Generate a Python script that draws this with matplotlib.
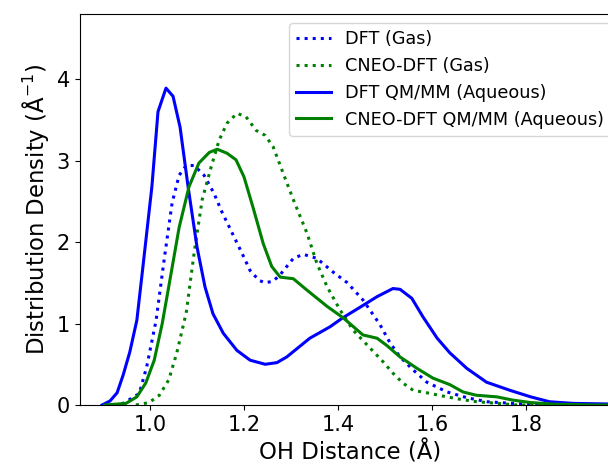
import matplotlib
matplotlib.use("Agg")
import matplotlib.pyplot as plt

# ── data (OH distance in Å, density in Å^-1) ──
dft_gas_x = [0.94, 0.977, 0.993, 1.013, 1.03, 1.047, 1.062, 1.077, 1.094, 1.115,
             1.136, 1.153, 1.175, 1.196, 1.213, 1.232, 1.245, 1.262, 1.277, 1.305,
             1.326, 1.355, 1.39, 1.42, 1.453, 1.489, 1.51, 1.532, 1.56, 1.589,
             1.632, 1.674, 1.717, 1.77, 1.82, 1.9, 2.0]
dft_gas_y = [0.01, 0.14, 0.47, 1.04, 1.78, 2.48, 2.82, 2.94, 2.94, 2.82,
             2.60, 2.37, 2.11, 1.86, 1.65, 1.53, 1.50, 1.52, 1.60, 1.80,
             1.85, 1.80, 1.63, 1.50, 1.29, 0.99, 0.77, 0.59, 0.43, 0.28,
             0.16, 0.09, 0.04, 0.02, 0.01, 0.0, 0.0]

cneo_gas_x = [0.97, 0.998, 1.02, 1.04, 1.057, 1.077, 1.094, 1.111, 1.13, 1.147,
              1.164, 1.185, 1.204, 1.226, 1.245, 1.262, 1.283, 1.305, 1.334, 1.355,
              1.377, 1.404, 1.432, 1.468, 1.496, 1.517, 1.538, 1.56, 1.589, 1.623,
              1.66, 1.695, 1.74, 1.78, 1.9, 2.0]
cneo_gas_y = [0.0, 0.03, 0.12, 0.31, 0.64, 1.13, 1.87, 2.52, 2.92, 3.25,
              3.46, 3.58, 3.54, 3.37, 3.31, 3.17, 2.85, 2.52, 2.11, 1.74,
              1.45, 1.17, 0.92, 0.70, 0.53, 0.39, 0.27, 0.18, 0.15, 0.11,
              0.07, 0.04, 0.02, 0.0, 0.0, 0.0]

dft_aq_x = [0.898, 0.915, 0.93, 0.943, 0.957, 0.972, 0.985, 1.004, 1.017, 1.034,
            1.049, 1.064, 1.081, 1.10, 1.117, 1.134, 1.156, 1.185, 1.213, 1.245,
            1.27, 1.291, 1.34, 1.383, 1.41, 1.447, 1.483, 1.517, 1.532, 1.557,
            1.581, 1.611, 1.638, 1.674, 1.716, 1.766, 1.81, 1.85, 1.90, 2.0]
dft_aq_y = [0.0, 0.05, 0.15, 0.37, 0.65, 1.04, 1.7, 2.68, 3.6, 3.89,
            3.79, 3.41, 2.68, 1.94, 1.45, 1.12, 0.88, 0.67, 0.55, 0.50,
            0.52, 0.59, 0.82, 0.96, 1.07, 1.20, 1.33, 1.43, 1.42, 1.31,
            1.08, 0.82, 0.64, 0.45, 0.28, 0.18, 0.10, 0.04, 0.02, 0.01]

cneo_aq_x = [0.904, 0.949, 0.972, 0.991, 1.009, 1.026, 1.045, 1.062, 1.083, 1.104,
             1.126, 1.143, 1.164, 1.183, 1.2, 1.219, 1.241, 1.259, 1.277, 1.305,
             1.334, 1.377, 1.411, 1.453, 1.483, 1.504, 1.532, 1.568, 1.602, 1.638,
             1.666, 1.694, 1.738, 1.772, 1.81, 1.86, 1.95, 2.0]
cneo_aq_y = [0.0, 0.02, 0.10, 0.27, 0.55, 1.0, 1.62, 2.18, 2.68, 2.97,
             3.10, 3.14, 3.09, 3.01, 2.80, 2.43, 1.98, 1.70, 1.57, 1.55,
             1.41, 1.21, 1.07, 0.86, 0.82, 0.73, 0.59, 0.45, 0.33, 0.25,
             0.16, 0.12, 0.10, 0.06, 0.03, 0.01, 0.0, 0.0]

labels = ["DFT (Gas)", "CNEO-DFT (Gas)", "DFT QM/MM (Aqueous)", "CNEO-DFT QM/MM (Aqueous)"]

W, H = 608, 466
fig = plt.figure(figsize=(W / 100, H / 100), dpi=100)
# axes run a little past the right edge, as in the cropped original
ax = fig.add_axes([79.5 / W, 61 / H, (620 - 79.5) / W, 391 / H])

ax.plot(dft_gas_x, dft_gas_y, ":", color="blue", lw=2.2, label=labels[0])
ax.plot(cneo_gas_x, cneo_gas_y, ":", color="green", lw=2.2, label=labels[1])
ax.plot(dft_aq_x, dft_aq_y, "-", color="blue", lw=2.2, label=labels[2])
ax.plot(cneo_aq_x, cneo_aq_y, "-", color="green", lw=2.2, label=labels[3])

ax.set_xlim(0.85, 2.0)
ax.set_ylim(0, 4.8)
ax.set_xticks([1.0, 1.2, 1.4, 1.6, 1.8])
ax.set_yticks([0, 1, 2, 3, 4])
ax.tick_params(labelsize=15)
ax.set_xlabel("OH Distance (Å)", fontsize=16.4)
ax.set_ylabel("Distribution Density (Å$^{-1}$)", fontsize=16.4)

ax.legend(loc="upper left", bbox_to_anchor=(289 / W, 1 - 23 / H),
          bbox_transform=fig.transFigure, fontsize=12.7, borderaxespad=0)

fig.savefig("out.png", dpi=100)
